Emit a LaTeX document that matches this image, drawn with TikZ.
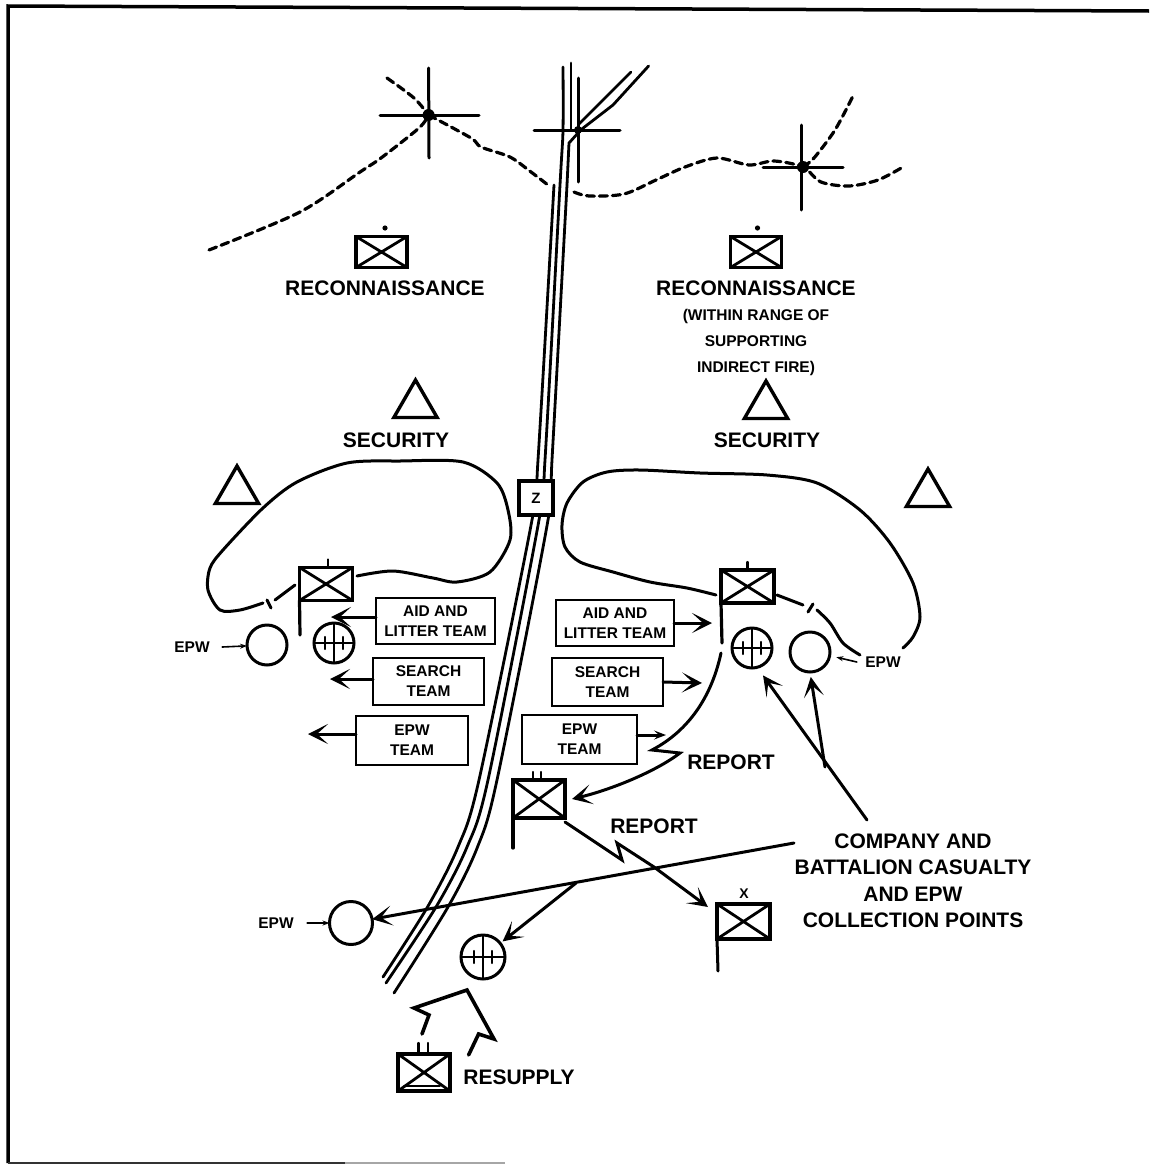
\documentclass[tikz,border=0pt]{standalone}
\usepackage{fontspec}
\setmainfont{Liberation Sans}
\usetikzlibrary{positioning, shapes.geometric, arrows.meta}
\tikzset{
  unitbox/.style={rectangle, draw, line width=3.2pt, inner sep=0pt, outer sep=0pt, fill=white, minimum width=51pt, minimum height=33pt,
    path picture={\draw [line width=2.8pt] (path picture bounding box.north west) -- (path picture bounding box.south east) (path picture bounding box.south west) -- (path picture bounding box.north east);}},
  teambox/.style={rectangle, draw, line width=2.4pt, inner sep=0pt, outer sep=0pt, align=center, font=\bfseries\fontsize{15.5}{20}\selectfont},
  aid/.style={circle, draw, line width=3pt, inner sep=0pt, outer sep=0pt, minimum size=40pt,
    path picture={\draw [line width=2.6pt] (path picture bounding box.north) -- (path picture bounding box.south) (path picture bounding box.west) -- (path picture bounding box.east);
      \draw [line width=2.2pt] ([xshift=-9pt, yshift=-6pt]path picture bounding box.center) -- ++(0,12pt) ([xshift=9pt, yshift=-6pt]path picture bounding box.center) -- ++(0,12pt);}},
  collect/.style={circle, draw, line width=3pt, inner sep=0pt, outer sep=0pt, minimum size=40pt},
  tri/.style={regular polygon, regular polygon sides=3, draw, line width=3.4pt, inner sep=0pt, outer sep=0pt, minimum size=50pt},
  biglabel/.style={align=center, font=\bfseries\fontsize{21}{26.5}\selectfont},
  smalllabel/.style={align=center, font=\bfseries\fontsize{15.5}{26}\selectfont},
  epwarrow/.style={->, line width=1.6pt, >={Stealth[length=7pt, width=5pt]}},
  line/.style={line width=3pt},
  road/.style={line width=2.8pt},
  boundary/.style={line width=3.2pt, dash pattern=on 8pt off 5pt}
}

\begin{document}
\begin{tikzpicture}[x=1pt, y=-1pt, >={Stealth[length=20pt, width=20pt, inset=11pt]}, line cap=round]
  \useasboundingbox (0,0) rectangle (1149,1165);
  % frame
  \draw [line width=3.5pt, line cap=butt] (8,1163) -- (8,6) -- (1149,11);
  \draw [line width=2.5pt, black!80, line cap=butt] (8,1163) -- (345,1163);
  \draw [line width=2pt, black!35, line cap=butt] (345,1163) -- (505,1163);

  % road
  \draw [road] plot [smooth] coordinates {(563,67) (563,130) (560,185) (545,460) (539,520) (488,780) (467,847) (436,907) (386,983)};
  \draw [road] plot [smooth] coordinates {(554,185) (538,460) (532,520) (479,780) (458,847) (427.5,907) (383,977)};
  \draw [road] (578,133) -- (569,143) -- (567,185);
  \draw [road] plot [smooth] coordinates {(567,185) (552,460) (548,520) (497,780) (477.5,847) (448,907) (394,993)};
  \draw [road] (571,63) -- (571,130);
  \draw [road] (578,125) -- (631,72);
  \draw [road] (578,132) -- (613,105) -- (648.6,66);

  % grid crossings and phase lines
  \draw [line] (428.6,68) -- (429,158);
  \draw [line] (380,115) -- (479,115);
  \draw [line] (578,78) -- (578,182);
  \draw [line] (534,130) -- (620,130);
  \draw [line] (801,125) -- (801,210);
  \draw [line] (763,167) -- (843,167);
  \fill (428.6,115) circle (6pt);
  \fill (578,130) circle (4pt);
  \fill (803,167) circle (6pt);
  \draw [boundary] plot [smooth] coordinates {(209,250) (300,212) (360,172) (381,158) (419,128) (428.6,115)};
  \draw [boundary] plot [smooth] coordinates {(387,78) (414,98) (428.6,115)};
  \draw [boundary] plot [smooth] coordinates {(428.6,115) (471,138) (481,147) (510,157) (531,172) (548,185)};
  \draw [boundary] plot [smooth] coordinates {(574,192) (589,196) (624,194) (656,180) (685,167) (717,158) (749,165) (774,161) (803,167) (821,182) (849,186) (878,180) (903,167)};
  \draw [boundary] plot [smooth] coordinates {(803,167) (814,158) (835,130) (853,96)};

  % nodes
  \node [unitbox, minimum height=31pt] (reconL) at (381.5,252) {};
  \node [unitbox, minimum height=31pt] (reconR) at (756,252) {};
  \fill (385,228) circle (2.6pt);
  \fill (757.5,228) circle (2.6pt);
  \node [biglabel] (reconLtext) at (385,288) {RECONNAISSANCE};
  \node [biglabel] (reconRtext) at (756,288) {RECONNAISSANCE};
  \node [smalllabel] (range) at (756,342) {(WITHIN RANGE OF\\SUPPORTING\\INDIRECT FIRE)};

  \node [tri] (triA) at (415.5,405) {};
  \node [tri] (triB) at (766,406) {};
  \node [tri] (triC) at (237,491) {};
  \node [tri] (triD) at (928,494) {};
  \node [biglabel] (secL) at (396,440) {SECURITY};
  \node [biglabel] (secR) at (767,440) {SECURITY};

  \node [rectangle, draw, line width=3.2pt, fill=white, minimum size=34pt, inner sep=0pt, font=\bfseries\fontsize{15}{16}\selectfont] (zone) at (536,498) {Z};

  \node [teambox, minimum width=119pt, minimum height=46pt] (aidL) at (435.5,621) {AID AND\\LITTER TEAM};
  \node [teambox, minimum width=111pt, minimum height=47pt] (searchL) at (428.5,681.5) {SEARCH\\TEAM};
  \node [teambox, minimum width=112pt, minimum height=49pt] (epwL) at (412,740.5) {EPW\\TEAM};
  \node [teambox, minimum width=118pt, minimum height=46pt] (aidR) at (615,623) {AID AND\\LITTER TEAM};
  \node [teambox, minimum width=111pt, minimum height=48pt] (searchR) at (607.5,682) {SEARCH\\TEAM};
  \node [teambox, minimum width=115pt, minimum height=49pt] (epwR) at (579.5,739.5) {EPW\\TEAM};

  \node [unitbox, minimum width=53pt] (hqL) at (326,584) {};
  \node [unitbox, minimum width=53pt] (hqR) at (747.5,586.5) {};
  \node [unitbox, minimum width=52pt, minimum height=38pt] (trains) at (539,799) {};
  \node [unitbox, minimum width=53pt, minimum height=35pt] (brigade) at (743.5,921.5) {};
  \node [unitbox, minimum width=52pt, minimum height=37pt] (support) at (424,1072.5) {};

  \node [aid] (aidptL) at (334,643) {};
  \node [aid] (aidptR) at (752,648) {};
  \node [aid, minimum size=44pt] (aidptC) at (483,957) {};
  \node [collect] (epwptL) at (267,645) {};
  \node [collect] (epwptR) at (810,652) {};
  \node [collect, minimum size=43pt] (epwptC) at (351,923) {};

  \node [smalllabel] (epwtextL) at (192,647) {EPW};
  \node [smalllabel] (epwtextR) at (883,662) {EPW};
  \node [smalllabel] (epwtextC) at (276,923) {EPW};
  \node [biglabel] (reportA) at (731,762) {REPORT};
  \node [biglabel] (reportB) at (654,826) {REPORT};
  \node [biglabel] (points) at (913,881) {COMPANY AND\\BATTALION CASUALTY\\AND EPW\\COLLECTION POINTS};
  \node [biglabel] (resupply) at (519,1077) {RESUPPLY};
  \node [font=\bfseries\fontsize{14}{16}\selectfont, inner sep=0pt] (xmark) at (744,894) {X};

  % free ends
  \coordinate (aidLend) at (331,617);
  \coordinate (searchLend) at (330,679);
  \coordinate (epwLend) at (308,734);
  \coordinate (aidRend) at (712,623);
  \coordinate (searchRend) at (702,683);
  \coordinate (epwRend) at (666,735);
  \coordinate (split) at (825,767);
  \coordinate (collectstart) at (867,820);
  \coordinate (longstart) at (794,843);
  \coordinate (branch) at (576,883);

  % flags and markings
  \draw [line width=3.2pt] (hqL.south west) -- (300,635);
  \draw [line width=3.2pt] (hqR.south west) -- (722,643);
  \draw [line width=3.2pt] (trains.south west) -- (513,848);
  \draw [line width=3pt] (brigade.south west) -- (718,971);
  \draw [line width=2.4pt] (hqL.north) ++(2,0) -- ++(0,-8);
  \draw [line width=2.4pt] (hqR.north) ++(0,0) -- ++(0,-8);
  \draw [line width=2.4pt] (trains.north) ++(-6,0) -- ++(0,-8);
  \draw [line width=2.4pt] (trains.north) ++(2,0) -- ++(0,-8);
  \draw [line width=2.4pt] (support.north) ++(-5.5,0) -- ++(0,-11);
  \draw [line width=2.4pt] (support.north) ++(4,0) -- ++(0,-11);
  \draw [line width=2pt] (404,1086) -- (440,1086);

  % perimeters
  \draw [line] plot [smooth] coordinates {(357,576) (393,571) (433,578) (457,582) (490,572) (510,540) (508,510) (497,483) (463,462) (400,461) (347,463) (297,482) (263,508) (223,550) (210,568) (208,590) (220,610) (240,610) (263,603)};
  \draw [line] (267,600) -- (271,608);
  \draw [line] (275,600) -- (295,585);
  \draw [line] plot [smooth] coordinates {(716,595) (687,588) (650,582) (613,572) (580,562) (565,547) (562,525) (567,503) (583,482) (607,472) (640,470) (700,473) (767,475) (817,483) (860,510) (890,543) (913,583) (920,617) (913,637) (903,648)};
  \draw [line] plot [smooth] coordinates {(777,595) (803,605)};
  \draw [line] (813,604) -- (808,612);
  \draw [line] plot [smooth] coordinates {(817,610) (830,623) (843,643) (860,655)};

  % edges
  \draw [->, line] (aidLend -| aidL.west) -- (aidLend);
  \draw [->, line] (searchLend -| searchL.west) -- (searchLend);
  \draw [->, line] (epwLend -| epwL.west) -- (epwLend);
  \draw [->, line] (aidR.east) -- (aidRend);
  \draw [->, line] (searchR.east) -- (searchRend);
  \draw [->, line, >={Stealth[length=12pt, width=9pt, inset=5pt]}] (epwRend -| epwR.east) -- (epwRend);

  \draw [->, line] (721,653) .. controls (712,695) and (690,730) .. (652,750) -- (680,753) .. controls (655,772) and (610,790) .. ([xshift=7pt]trains.east);
  \draw [->, line] (trains.south east) ++(0,4) -- (622,860) -- (617,843) -- (654,867) -- ([xshift=-9pt, yshift=-3pt]brigade.north west);
  \draw [->, line] (longstart) -- (epwptC);
  \draw [->, line, shorten >=3pt] (branch) -- (aidptC);
  \draw [->, line, shorten >=10pt] (collectstart) -- (aidptR.-75);
  \draw [->, line, shorten >=5pt] (split) -- (epwptR.-90);

  \draw [epwarrow] (epwtextL.east) ++(9,0) -- (epwptL);
  \draw [epwarrow] (epwtextR.west) ++(-5,0) -- ([xshift=7pt]epwptR.-15);
  \draw [epwarrow] (epwtextC.east) ++(10,0) -- (epwptC);

  % resupply
  \draw [line, line width=3.6pt] (422,1034) -- (429,1015) -- (414,1008) -- (467,990) -- (494,1039) -- (478.6,1034) -- (468.6,1055);
\end{tikzpicture}
\end{document}
